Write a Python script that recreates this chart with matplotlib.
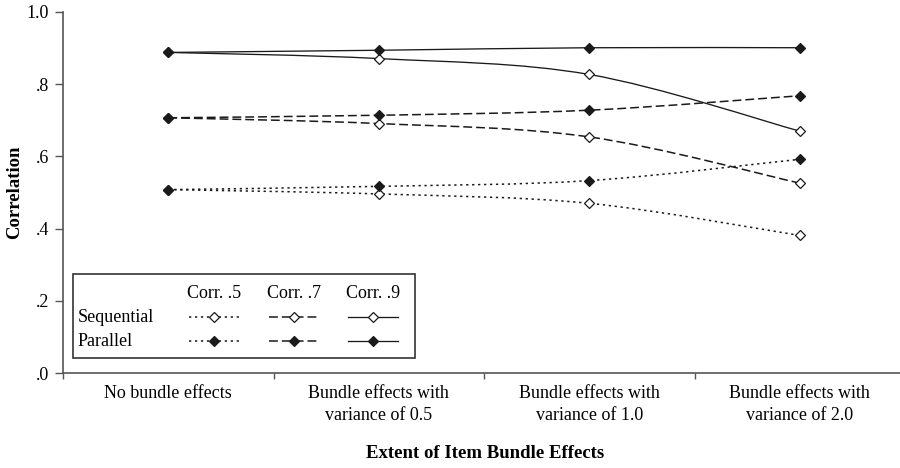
import matplotlib
matplotlib.use("Agg")
import matplotlib.pyplot as plt
from matplotlib.path import Path
from matplotlib.patches import PathPatch, Rectangle
from matplotlib.lines import Line2D
import numpy as np

plt.rcParams['font.family'] = ['Liberation Serif', 'DejaVu Serif']

categories = ["No bundle effects", "Bundle effects with\nvariance of 0.5",
              "Bundle effects with\nvariance of 1.0", "Bundle effects with\nvariance of 2.0"]
seq_5 = [0.508, 0.496, 0.470, 0.381]
seq_7 = [0.707, 0.691, 0.654, 0.526]
seq_9 = [0.888, 0.871, 0.827, 0.670]
par_5 = [0.508, 0.517, 0.533, 0.592]
par_7 = [0.707, 0.714, 0.728, 0.768]
par_9 = [0.888, 0.894, 0.901, 0.901]
yticks = [0.0, 0.2, 0.4, 0.6, 0.8, 1.0]
ytick_labels = [".0", ".2", ".4", ".6", ".8", "1.0"]
legend_cols = ["Corr. .5", "Corr. .7", "Corr. .9"]
legend_rows = ["Sequential", "Parallel"]

W, H = 900, 468
fig = plt.figure(figsize=(9, 4.68), dpi=100)
ax = fig.add_axes([63 / W, 1 - 373 / H, (905 - 63) / W, (373 - 12) / H])

LINE_COLOR = "#1a1a1a"
styles = {5: (0, (1.5, 2.4)), 7: (0, (5.8, 2.6)), 9: "solid"}
widths = {5: 1.1, 7: 1.1, 9: 0.95}
FS = 13


def smooth_path(xs, ys):
    pts = np.column_stack([xs, ys])
    n = len(pts)
    verts = [pts[0]]
    codes = [Path.MOVETO]
    for i in range(n - 1):
        p0 = pts[i - 1] if i > 0 else pts[i]
        p1 = pts[i]
        p2 = pts[i + 1]
        p3 = pts[i + 2] if i + 2 < n else pts[i + 1]
        c1 = p1 + (p2 - p0) / 6.0
        c2 = p2 - (p3 - p1) / 6.0
        verts += [c1, c2, p2]
        codes += [Path.CURVE4] * 3
    return Path(verts, codes)


xpos = np.arange(len(categories)) + 0.5
series = [(seq_5, 5, "white"), (seq_7, 7, "white"), (seq_9, 9, "white"),
          (par_5, 5, LINE_COLOR), (par_7, 7, LINE_COLOR), (par_9, 9, LINE_COLOR)]

for vals, corr, face in series:
    patch = PathPatch(smooth_path(xpos, np.array(vals)), facecolor="none",
                      edgecolor=LINE_COLOR, lw=widths[corr], linestyle=styles[corr],
                      capstyle="butt", zorder=2)
    ax.add_patch(patch)
for vals, corr, face in series:
    ax.plot(xpos, vals, linestyle="none", marker="D", markersize=4.6,
            markerfacecolor=face, markeredgecolor=LINE_COLOR,
            markeredgewidth=0.9, zorder=3)

ax.set_xlim(0, 4)
ax.set_ylim(0, 1)
for s in ["top", "right"]:
    ax.spines[s].set_visible(False)
for s in ["left", "bottom"]:
    ax.spines[s].set_color("#555555")
    ax.spines[s].set_linewidth(1.2)

ax.set_yticks(yticks)
ax.set_yticklabels(ytick_labels, fontsize=FS)
ax.tick_params(axis="y", direction="out", length=6, width=1.0, color="#555555", pad=4)
ax.set_xticks([0, 1, 2, 3, 4])
ax.set_xticklabels([])
ax.tick_params(axis="x", which="major", direction="out", length=4, width=1.0, color="#555555")
ax.set_xticks(xpos, minor=True)
ax.set_xticklabels(categories, minor=True, fontsize=FS, linespacing=1.35)
ax.tick_params(axis="x", which="minor", length=0, pad=9)

ax.set_ylabel("Correlation", fontsize=13.5, fontweight="bold")
ax.yaxis.set_label_coords((23 - 63) / (905 - 63), 0.5)
fig.text(485 / W, 1 - 453 / H, "Extent of Item Bundle Effects", fontsize=13.5,
         fontweight="bold", ha="center", va="center")


# manual legend
def fx(px):
    return px / W


def fy(py):
    return 1 - py / H


box = Rectangle((fx(73), fy(358)), fx(415) - fx(73), fy(274) - fy(358),
                transform=fig.transFigure, facecolor="white", edgecolor="#333333",
                lw=1.2, zorder=5)
fig.patches.append(box)
col_centers = [214, 294, 373]
for c, lab in zip(col_centers, legend_cols):
    fig.text(fx(c), fy(293), lab, fontsize=FS, ha="center", va="center", zorder=6)
row_y = [317, 341]
for r, lab in zip(row_y, legend_rows):
    fig.text(fx(78), fy(r), lab, fontsize=FS, ha="left", va="center", zorder=6)
for ri, (r, face) in enumerate(zip(row_y, ["white", LINE_COLOR])):
    for c, corr in zip(col_centers, [5, 7, 9]):
        ln = Line2D([fx(c - 25), fx(c + 25)], [fy(r), fy(r)], transform=fig.transFigure,
                    color=LINE_COLOR, lw=widths[corr], linestyle=styles[corr], zorder=6)
        fig.lines.append(ln)
        mk = Line2D([fx(c)], [fy(r)], transform=fig.transFigure, linestyle="none",
                    marker="D", markersize=4.6, markerfacecolor=face,
                    markeredgecolor=LINE_COLOR, markeredgewidth=0.9, zorder=7)
        fig.lines.append(mk)

fig.savefig("out.png", dpi=100)
